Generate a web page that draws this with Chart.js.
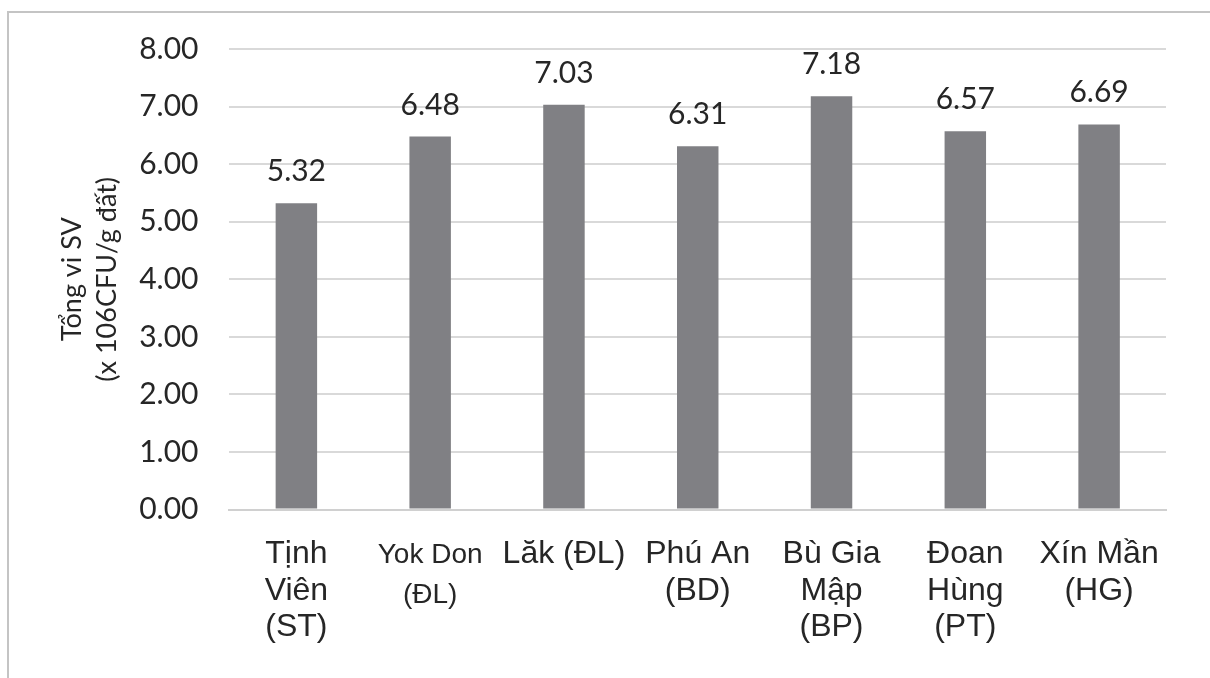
<!DOCTYPE html>
<html>
<head>
<meta charset="utf-8">
<script src="https://cdn.jsdelivr.net/npm/chart.js@4"></script>
<style>
    html, body { margin: 0; padding: 0; background: #fff; }
    #wrap { position: relative; width: 1210px; height: 678px; overflow: hidden; }
    #frame { position: absolute; left: 7px; top: 11px; width: 1300px; height: 800px; border: 2px solid #c4c4c4; }
    #chart { position: absolute; left: 0; top: 0; }
</style>
</head>
<body>
<div id="wrap">
    <div id="frame"></div>
    <canvas id="chart" width="1210" height="678"></canvas>
</div>
<script>
const sites = [
    ['Tịnh', 'Viên', '(ST)'],
    ['Yok Don', '(ĐL)'],
    ['Lăk (ĐL)'],
    ['Phú An', '(BD)'],
    ['Bù Gia', 'Mập', '(BP)'],
    ['Đoan', 'Hùng', '(PT)'],
    ['Xín Mần', '(HG)']
];
const totals = [5.32, 6.48, 7.03, 6.31, 7.18, 6.57, 6.69];
const yTitle = ['Tổng vi SV', '(x 106CFU/g đất)'];

// draws the value above each bar
const barValues = {
    id: 'barValues',
    afterDatasetsDraw(chart) {
        const ctx = chart.ctx;
        const meta = chart.getDatasetMeta(0);
        ctx.save();
        ctx.font = '30px Lato';
        ctx.fillStyle = '#262626';
        ctx.textAlign = 'center';
        ctx.textBaseline = 'alphabetic';
        meta.data.forEach(function(bar, i) {
            ctx.fillText(totals[i].toFixed(2), bar.x, bar.y - 22);
        });
        ctx.restore();
    }
};

document.addEventListener('DOMContentLoaded', function() {
    const ctx = document.getElementById('chart').getContext('2d');
    new Chart(ctx, {
        type: 'bar',
        data: {
            labels: sites,
            datasets: [{
                data: totals,
                backgroundColor: '#808084',
                categoryPercentage: 1,
                barPercentage: 0.31
            }]
        },
        options: {
            responsive: false,
            animation: false,
            layout: { padding: { left: 55, right: 44, top: 26, bottom: 6 } },
            plugins: {
                legend: { display: false },
                tooltip: { enabled: false }
            },
            scales: {
                x: {
                    grid: { display: false, drawTicks: false },
                    border: { display: true, color: '#d0d0d0', width: 2 },
                    ticks: {
                        color: '#262626',
                        padding: 26,
                        maxRotation: 0,
                        autoSkip: false,
                        font: function(c) {
                            // "Yok Don" is set smaller in the original
                            if (c.index === 1) {
                                return { family: 'Liberation Sans', size: 28, lineHeight: 1.42 };
                            }
                            return { family: 'Liberation Sans', size: 32, lineHeight: 1.15 };
                        }
                    }
                },
                y: {
                    min: 0,
                    max: 8,
                    grid: { color: '#d9d9d9', lineWidth: 2, drawTicks: false },
                    border: { display: false },
                    ticks: {
                        stepSize: 1,
                        color: '#262626',
                        padding: 31,
                        font: { family: 'Lato', size: 30 },
                        callback: function(v) { return v.toFixed(2); }
                    },
                    title: {
                        display: true,
                        text: yTitle,
                        color: '#262626',
                        font: { family: 'Lato', size: 27, lineHeight: 1.3 },
                        padding: { top: 0, bottom: -17 }
                    }
                }
            }
        },
        plugins: [barValues]
    });
});
</script>
</body>
</html>
